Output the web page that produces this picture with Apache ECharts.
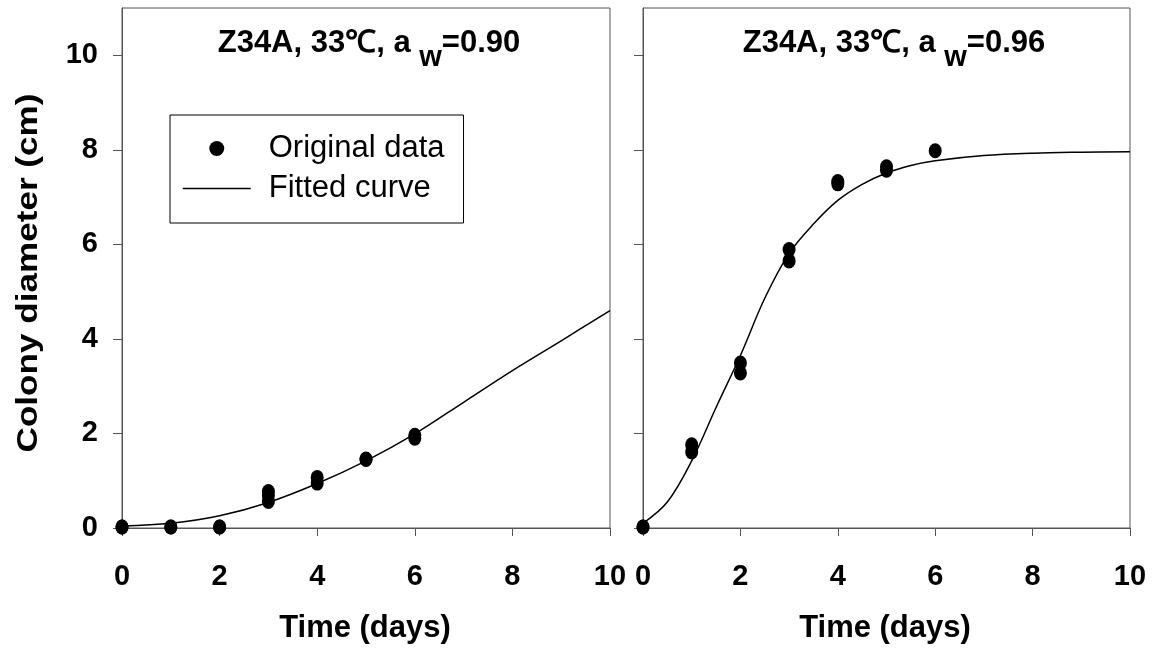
<!DOCTYPE html>
<html><head><meta charset="utf-8">
<script src="https://cdn.jsdelivr.net/npm/echarts@6/dist/echarts.min.js"></script>
<style>html,body{margin:0;padding:0;background:#fff}#c{width:1157px;height:653px}</style>
</head><body><div id="c"></div>
<script>
const FONT = '"Liberation Sans", Arial, sans-serif';
const xTicks = [0, 2, 4, 6, 8, 10];
const yTicks = [0, 2, 4, 6, 8, 10];

// a_w = 0.90 observations
const obsTime090 = [0, 0, 1, 1, 2, 2, 3, 3, 3, 4, 4, 5, 5, 6, 6];
const obsDiam090 = [0.02, 0.02, 0.02, 0.02, 0.02, 0.02, 0.77, 0.69, 0.56, 1.07, 0.95, 1.46, 1.45, 1.96, 1.90];
// a_w = 0.90 fitted curve
const fitTime090 = [0, 1, 2, 3, 4, 5, 6, 7, 8, 9, 10];
const fitDiam090 = [0.04, 0.10, 0.26, 0.54, 0.94, 1.42, 1.99, 2.66, 3.33, 3.96, 4.60];

// a_w = 0.96 observations
const obsTime096 = [0, 0, 1, 1, 2, 2, 3, 3, 4, 4, 5, 5, 6];
const obsDiam096 = [0.02, 0.02, 1.76, 1.61, 3.49, 3.28, 5.89, 5.65, 7.33, 7.28, 7.64, 7.57, 7.98];
// a_w = 0.96 fitted curve
const fitTime096 = [0, 0.5, 1, 1.5, 2, 2.5, 3, 3.5, 4, 4.5, 5, 5.5, 6, 7, 8, 9, 10];
const fitDiam096 = [0.10, 0.55, 1.42, 2.55, 3.65, 4.86, 5.81, 6.43, 6.93, 7.27, 7.51, 7.67, 7.77, 7.88, 7.93, 7.95, 7.96];

const titles = ['0.90', '0.96'];

function zip(a, b) { return a.map((v, i) => [v, b[i]]); }

const axisLineStyle = { color: '#555', width: 1 };
function xAx(gi) {
  return {
    type: 'value', gridIndex: gi, min: 0, max: 10, interval: 2,
    axisLine: { show: true, onZero: false, lineStyle: axisLineStyle },
    axisTick: { show: true, inside: false, length: 8, lineStyle: axisLineStyle, customValues: xTicks },
    axisLabel: { show: true, margin: 34, fontSize: 29, fontWeight: 'bold', fontFamily: FONT, color: '#000', customValues: xTicks, showMinLabel: true, showMaxLabel: true },
    splitLine: { show: false }
  };
}
function yAx(gi, labels) {
  return {
    type: 'value', gridIndex: gi, min: 0, max: 11, interval: 2,
    axisLine: { show: true, onZero: false, lineStyle: axisLineStyle },
    axisTick: { show: true, inside: false, length: 9, lineStyle: axisLineStyle, customValues: yTicks },
    axisLabel: { show: labels, margin: 24, fontSize: 29, fontWeight: 'bold', fontFamily: FONT, color: '#000', customValues: yTicks },
    splitLine: { show: false }
  };
}

function titleText(x, val) {
  return {
    type: 'text', x: x, y: 28,
    style: {
      text: '{m|Z34A, 33℃, a }{s|w}{m|=' + val + '}',
      align: 'center', verticalAlign: 'top',
      rich: {
        m: { fontSize: 31, fontWeight: 'bold', fontFamily: FONT, fill: '#000', color: '#000', verticalAlign: 'top', lineHeight: 33 },
        s: { fontSize: 29, fontWeight: 'bold', fontFamily: FONT, fill: '#000', color: '#000', verticalAlign: 'top', lineHeight: 33, padding: [15, 0, 0, 0] }
      }
    }
  };
}

const chart = echarts.init(document.getElementById('c'), null, { renderer: 'canvas' });
chart.setOption({
  animation: false,
  backgroundColor: '#fff',
  grid: [
    { left: 122, top: 8, width: 488, height: 520, show: true, borderColor: '#555', borderWidth: 1, backgroundColor: 'transparent' },
    { left: 643, top: 8, width: 487, height: 520, show: true, borderColor: '#555', borderWidth: 1, backgroundColor: 'transparent' }
  ],
  xAxis: [xAx(0), xAx(1)],
  yAxis: [yAx(0, true), yAx(1, false)],
  legend: {
    data: [
      { name: 'Original data', icon: 'circle', itemStyle: { color: '#000', opacity: 1 } },
      { name: 'Fitted curve', itemStyle: { opacity: 0 }, lineStyle: { color: '#000', width: 1.5, opacity: 1 } }
    ],
    orient: 'vertical', left: 170, top: 115,
    itemWidth: 68, itemHeight: 15, itemGap: 9,
    padding: [18, 19, 19, 12],
    borderColor: '#000', borderWidth: 1,
    textStyle: { fontSize: 31, fontFamily: FONT, color: '#000', padding: [0, 0, 0, 13] }
  },
  graphic: [
    titleText(369, titles[0]),
    titleText(894, titles[1]),
    { type: 'text', x: 29, y: 273, rotation: Math.PI / 2, scaleX: 1.17,
      style: { text: 'Colony diameter (cm)', font: 'bold 30px ' + FONT, fill: '#000', align: 'center', verticalAlign: 'middle' } },
    { type: 'text', x: 365, y: 628,
      style: { text: 'Time (days)', font: 'bold 31px ' + FONT, fill: '#000', align: 'center', verticalAlign: 'middle' } },
    { type: 'text', x: 885, y: 628,
      style: { text: 'Time (days)', font: 'bold 31px ' + FONT, fill: '#000', align: 'center', verticalAlign: 'middle' } }
  ],
  series: [
    { name: 'Fitted curve', type: 'line', xAxisIndex: 0, yAxisIndex: 0, data: zip(fitTime090, fitDiam090),
      smooth: 0.35, symbol: 'none', lineStyle: { color: '#000', width: 1.5 }, itemStyle: { color: '#000' }, z: 2 },
    { name: 'Original data', type: 'scatter', xAxisIndex: 0, yAxisIndex: 0, data: zip(obsTime090, obsDiam090),
      symbol: 'circle', symbolSize: [13, 15], itemStyle: { color: '#000', opacity: 1 }, clip: false, z: 3 },
    { name: 'Fitted curve', type: 'line', xAxisIndex: 1, yAxisIndex: 1, data: zip(fitTime096, fitDiam096),
      smooth: 0.35, symbol: 'none', lineStyle: { color: '#000', width: 1.5 }, itemStyle: { color: '#000' }, z: 2 },
    { name: 'Original data', type: 'scatter', xAxisIndex: 1, yAxisIndex: 1, data: zip(obsTime096, obsDiam096),
      symbol: 'circle', symbolSize: [13, 15], itemStyle: { color: '#000', opacity: 1 }, clip: false, z: 3 }
  ]
});
</script></body></html>
